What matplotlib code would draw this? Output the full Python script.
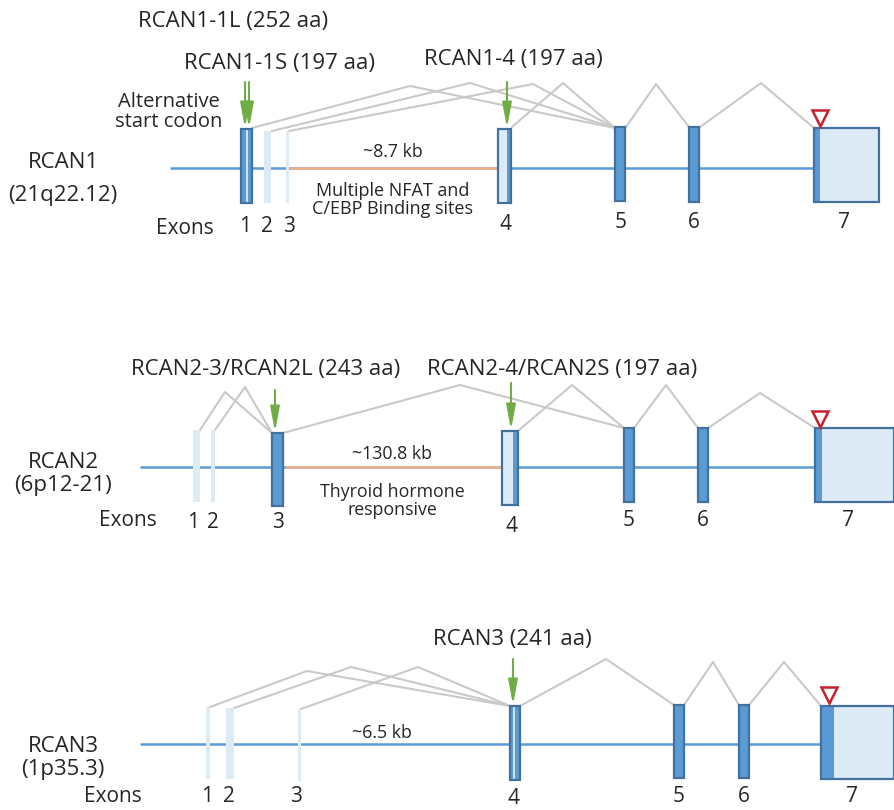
"""Gene structure of RCAN1, RCAN2 and RCAN3 (exons, splicing, start codons)."""

import matplotlib
matplotlib.use("Agg")
import matplotlib.pyplot as plt
from matplotlib.patches import Rectangle

plt.rcParams["font.family"] = ["Open Sans", "DejaVu Sans"]

BLUE = "#5B9BD5"
DARK = "#41719C"
LIGHT = "#DDEBF7"
ORANGE = "#F4B183"
GREY = "#C9C9C9"
GREEN = "#70AD47"
RED = "#C8202A"
TEXT = "#262626"

# ---- RCAN1 (pixel layout of the original figure) ----
rcan1_line = (170, 815, 168)          # x start, x end, y
rcan1_orange = (289, 498)
rcan1_x0 = [241, 264, 286, 498, 615, 689, 814]
rcan1_x1 = [252, 271, 289, 511, 625, 699, 879]
rcan1_top = [129, 131, 131, 129, 127, 127, 128]
rcan1_bot = [203, 203, 203, 203, 201, 202, 202]
rcan1_kind = ["split", "light", "light", "first", "coding", "coding", "last"]
rcan1_strip = [0.5, 0, 0, 4, 0, 0, 6]
rcan1_num_x = [245, 267, 289, 505, 621, 694, 844]
rcan1_num_y = [227, 227, 227, 225, 223, 223, 223]
# junctions: (x from, y from, x peak, y peak, x to, y to)
rcan1_junc = [(252, 128, 410, 86, 615, 128),
              (272, 131, 470, 83, 615, 128),
              (289, 131, 533, 84, 615, 128),
              (512, 127, 563, 83, 615, 128),
              (626, 127, 656, 84, 689, 127),
              (700, 127, 761, 83, 814, 128)]
rcan1_arrows = [(245, 82, 128), (249, 82, 128), (507, 82, 128)]
rcan1_stop = (820, 118)

# ---- RCAN2 ----
rcan2_line = (140, 815, 467)
rcan2_orange = (285, 502)
rcan2_x0 = [193, 211, 272, 502, 624, 698, 815]
rcan2_x1 = [200, 215, 283, 518, 634, 708, 894]
rcan2_top = [430, 430, 433, 431, 428, 428, 428]
rcan2_bot = [502, 502, 506, 505, 502, 502, 502]
rcan2_kind = ["light", "light", "coding", "first", "coding", "coding", "last"]
rcan2_strip = [0, 0, 0, 5, 0, 0, 7]
rcan2_num_x = [193, 213, 278, 511, 629, 703, 848]
rcan2_num_y = [523, 523, 523, 526, 521, 521, 521]
rcan2_junc = [(200, 430, 225, 392, 272, 433),
              (215, 430, 245, 387, 272, 433),
              (283, 433, 460, 385, 624, 428),
              (518, 431, 572, 385, 624, 428),
              (634, 428, 666, 385, 698, 428),
              (708, 428, 760, 393, 815, 428)]
rcan2_arrows = [(275, 390, 432), (511, 383, 430)]
rcan2_stop = (820, 419)

# ---- RCAN3 ----
rcan3_line = (140, 821, 744)
rcan3_x0 = [206, 226, 298, 510, 674, 739, 821]
rcan3_x1 = [210, 234, 301, 520, 684, 749, 894]
rcan3_top = [707, 708, 709, 706, 705, 705, 706]
rcan3_bot = [779, 779, 781, 780, 778, 778, 779]
rcan3_kind = ["light", "light", "light", "split", "coding", "coding", "last"]
rcan3_strip = [0, 0, 0, 0.35, 0, 0, 13]
rcan3_num_x = [207, 229, 296, 514, 679, 744, 852]
rcan3_num_y = [797, 797, 797, 799, 797, 797, 797]
rcan3_junc = [(210, 707, 307, 671, 510, 706),
              (234, 708, 351, 667, 510, 706),
              (301, 709, 418, 667, 510, 706),
              (520, 706, 606, 659, 674, 705),
              (684, 705, 713, 662, 739, 705),
              (749, 705, 784, 662, 821, 706)]
rcan3_arrows = [(513, 659, 705)]
rcan3_stop = (829, 695)


def draw_exons(ax, x0s, x1s, tops, bots, kinds, strips):
    for x0, x1, t, b, kind, s in zip(x0s, x1s, tops, bots, kinds, strips):
        w, h = x1 - x0, b - t
        if kind == "light":
            ax.add_patch(Rectangle((x0, t), w, h, fc=LIGHT, ec="none", zorder=3))
        elif kind == "coding":
            ax.add_patch(Rectangle((x0, t), w, h, fc=BLUE, ec=DARK, lw=1.6, zorder=3))
        elif kind == "split":
            # coding exon with a thin pale stripe inside
            ax.add_patch(Rectangle((x0, t), w, h, fc=BLUE, ec=DARK, lw=1.6, zorder=3))
            xm = x0 + w * s
            ax.plot([xm, xm], [t + 2, b - 2], color="#EAF2FA", lw=1.2, zorder=4)
        elif kind == "first":
            ax.add_patch(Rectangle((x0, t), w, h, fc=LIGHT, ec="none", zorder=3))
            ax.add_patch(Rectangle((x1 - s, t), s, h, fc=BLUE, ec="none", zorder=3))
            ax.add_patch(Rectangle((x0, t), w, h, fc="none", ec=DARK, lw=1.6, zorder=4))
        elif kind == "last":
            ax.add_patch(Rectangle((x0, t), w, h, fc=LIGHT, ec="none", zorder=3))
            ax.add_patch(Rectangle((x0, t), s, h, fc=BLUE, ec="none", zorder=3))
            ax.add_patch(Rectangle((x0, t), w, h, fc="none", ec=DARK, lw=1.6, zorder=4))


def draw_gene(ax, line, orange, x0s, x1s, tops, bots, kinds, strips,
              num_x, num_y, junc, arrows, stop):
    xs, xe, y = line
    ax.plot([xs, xe], [y, y], color=BLUE, lw=1.8, zorder=1, solid_capstyle="butt")
    if orange is not None:
        ax.plot(orange, [y, y], color=ORANGE, lw=1.8, zorder=2, solid_capstyle="butt")
    for xa, ya, xp, yp, xb, yb in junc:
        ax.plot([xa, xp, xb], [ya, yp, yb], color=GREY, lw=1.5, zorder=2)
    draw_exons(ax, x0s, x1s, tops, bots, kinds, strips)
    for i, (nx, ny) in enumerate(zip(num_x, num_y)):
        ax.text(nx, ny, str(i + 1), fontsize=15, color=TEXT, ha="center", va="center")
    for x, y0, y1 in arrows:
        ax.annotate("", xy=(x, y1), xytext=(x, y0),
                    arrowprops=dict(arrowstyle="-|>,head_length=0.75,head_width=0.14",
                                    color=GREEN, lw=1.5, mutation_scale=20,
                                    shrinkA=0, shrinkB=0), zorder=5)
    ax.plot(*stop, marker="v", ms=11, mfc="white", mec=RED, mew=1.8, zorder=6)


fig = plt.figure(figsize=(8.94, 8.10), dpi=100)
ax = fig.add_axes([0, 0, 1, 1])
ax.set_xlim(0, 894)
ax.set_ylim(810, 0)
ax.axis("off")

draw_gene(ax, rcan1_line, rcan1_orange, rcan1_x0, rcan1_x1, rcan1_top, rcan1_bot,
          rcan1_kind, rcan1_strip, rcan1_num_x, rcan1_num_y, rcan1_junc,
          rcan1_arrows, rcan1_stop)
draw_gene(ax, rcan2_line, rcan2_orange, rcan2_x0, rcan2_x1, rcan2_top, rcan2_bot,
          rcan2_kind, rcan2_strip, rcan2_num_x, rcan2_num_y, rcan2_junc,
          rcan2_arrows, rcan2_stop)
draw_gene(ax, rcan3_line, None, rcan3_x0, rcan3_x1, rcan3_top, rcan3_bot,
          rcan3_kind, rcan3_strip, rcan3_num_x, rcan3_num_y, rcan3_junc,
          rcan3_arrows, rcan3_stop)

# labels
kw = dict(color=TEXT, ha="center", va="center")
ax.text(63, 162, "RCAN1", fontsize=16, **kw)
ax.text(63, 196, "(21q22.12)", fontsize=16, **kw)
ax.text(63, 462, "RCAN2", fontsize=16, **kw)
ax.text(63, 485, "(6p12-21)", fontsize=16, **kw)
ax.text(63, 746, "RCAN3", fontsize=16, **kw)
ax.text(63, 770, "(1p35.3)", fontsize=16, **kw)

ax.text(185, 228, "Exons", fontsize=15, **kw)
ax.text(128, 521, "Exons", fontsize=15, **kw)
ax.text(113, 797, "Exons", fontsize=15, **kw)

ax.text(233, 22, "RCAN1-1L (252 aa)", fontsize=16, **kw)
ax.text(279, 63, "RCAN1-1S (197 aa)", fontsize=16, **kw)
ax.text(513, 59, "RCAN1-4 (197 aa)", fontsize=16, **kw)
ax.text(169, 112, "Alternative\nstart codon", fontsize=14.5, linespacing=0.95, **kw)
ax.text(393, 152, "~8.7 kb", fontsize=12.8, **kw)
ax.text(393, 200, "Multiple NFAT and\nC/EBP Binding sites", fontsize=13, linespacing=1.0, **kw)

ax.text(266, 369, "RCAN2-3/RCAN2L (243 aa)", fontsize=16, **kw)
ax.text(562, 369, "RCAN2-4/RCAN2S (197 aa)", fontsize=16, **kw)
ax.text(392, 454, "~130.8 kb", fontsize=12.8, **kw)
ax.text(392, 501, "Thyroid hormone\nresponsive", fontsize=12.8, linespacing=1.0, **kw)

ax.text(512, 640, "RCAN3 (241 aa)", fontsize=16, **kw)
ax.text(382, 733, "~6.5 kb", fontsize=12.8, **kw)

fig.savefig("out.png", dpi=100, facecolor="white")
